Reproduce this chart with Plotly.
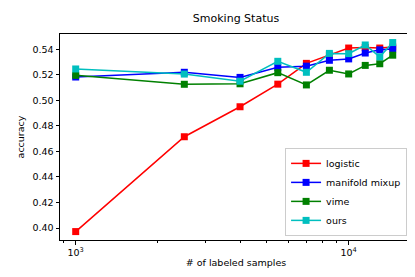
import plotly.graph_objects as go

samples = [1000, 2500, 4000, 5500, 7000, 8500, 10000, 11500, 13000, 14500]
logistic = [0.3972, 0.4715, 0.4950, 0.5127, 0.5290, 0.5355, 0.5410, 0.5415, 0.5410, 0.5418]
manifold_mixup = [0.5183, 0.5220, 0.5180, 0.5259, 0.5268, 0.5314, 0.5325, 0.5371, 0.5396, 0.5403]
vime = [0.5196, 0.5126, 0.5130, 0.5217, 0.5121, 0.5236, 0.5207, 0.5274, 0.5287, 0.5354]
ours = [0.5246, 0.5206, 0.5150, 0.5306, 0.5220, 0.5368, 0.5366, 0.5434, 0.5341, 0.5453]

series = [
    ("logistic", logistic, "#ff0000"),
    ("manifold mixup", manifold_mixup, "#0000ff"),
    ("vime", vime, "#008000"),
    ("ours", ours, "#00bfbf"),
]

y_ticks = [0.40, 0.42, 0.44, 0.46, 0.48, 0.50, 0.52, 0.54]
x_ticks = [1000, 10000]
x_ticktext = ["10<sup>3</sup>", "10<sup>4</sup>"]
x_minor = [900, 2000, 3000, 4000, 5000, 6000, 7000, 8000, 9000, 20000]

fig = go.Figure()
for name, vals, col in series:
    fig.add_trace(go.Scatter(
        x=samples, y=vals, name=name, mode="lines+markers",
        line=dict(color=col, width=1.5),
        marker=dict(symbol="square", size=7, color=col),
    ))

axis_common = dict(
    showline=True, linecolor="black", linewidth=1, mirror=True,
    ticks="outside", ticklen=3.5, tickcolor="black", showgrid=False,
    zeroline=False, tickfont=dict(size=9.5, color="black"),
)

fig.update_layout(
    width=415, height=277,
    margin=dict(l=52, r=11, t=26, b=45),
    paper_bgcolor="white", plot_bgcolor="white",
    font=dict(family="DejaVu Sans", size=9.5, color="black"),
    title=dict(text="Smoking Status", x=0.5, xref="paper", xanchor="center",
               y=1, yref="container", yanchor="top", pad=dict(t=6),
               font=dict(size=11, color="black")),
    xaxis=dict(type="log", range=[2.9425, 4.232], tickvals=x_ticks, ticktext=x_ticktext,
               title=dict(text="# of labeled samples", font=dict(size=9.5), standoff=2),
               minor=dict(ticks="outside", ticklen=2, tickcolor="black", tickvals=x_minor),
               **axis_common),
    yaxis=dict(range=[0.3906, 0.552], tickvals=y_ticks, tickformat=".2f",
               title=dict(text="accuracy", font=dict(size=9.5), standoff=6),
               **axis_common),
    legend=dict(x=0.986, y=0.02, xanchor="right", yanchor="bottom",
                bgcolor="rgba(255,255,255,0.8)", bordercolor="#cccccc", borderwidth=1,
                font=dict(size=9.5), tracegroupgap=0, itemwidth=30),
    showlegend=True,
)

fig.write_html("out.html")
